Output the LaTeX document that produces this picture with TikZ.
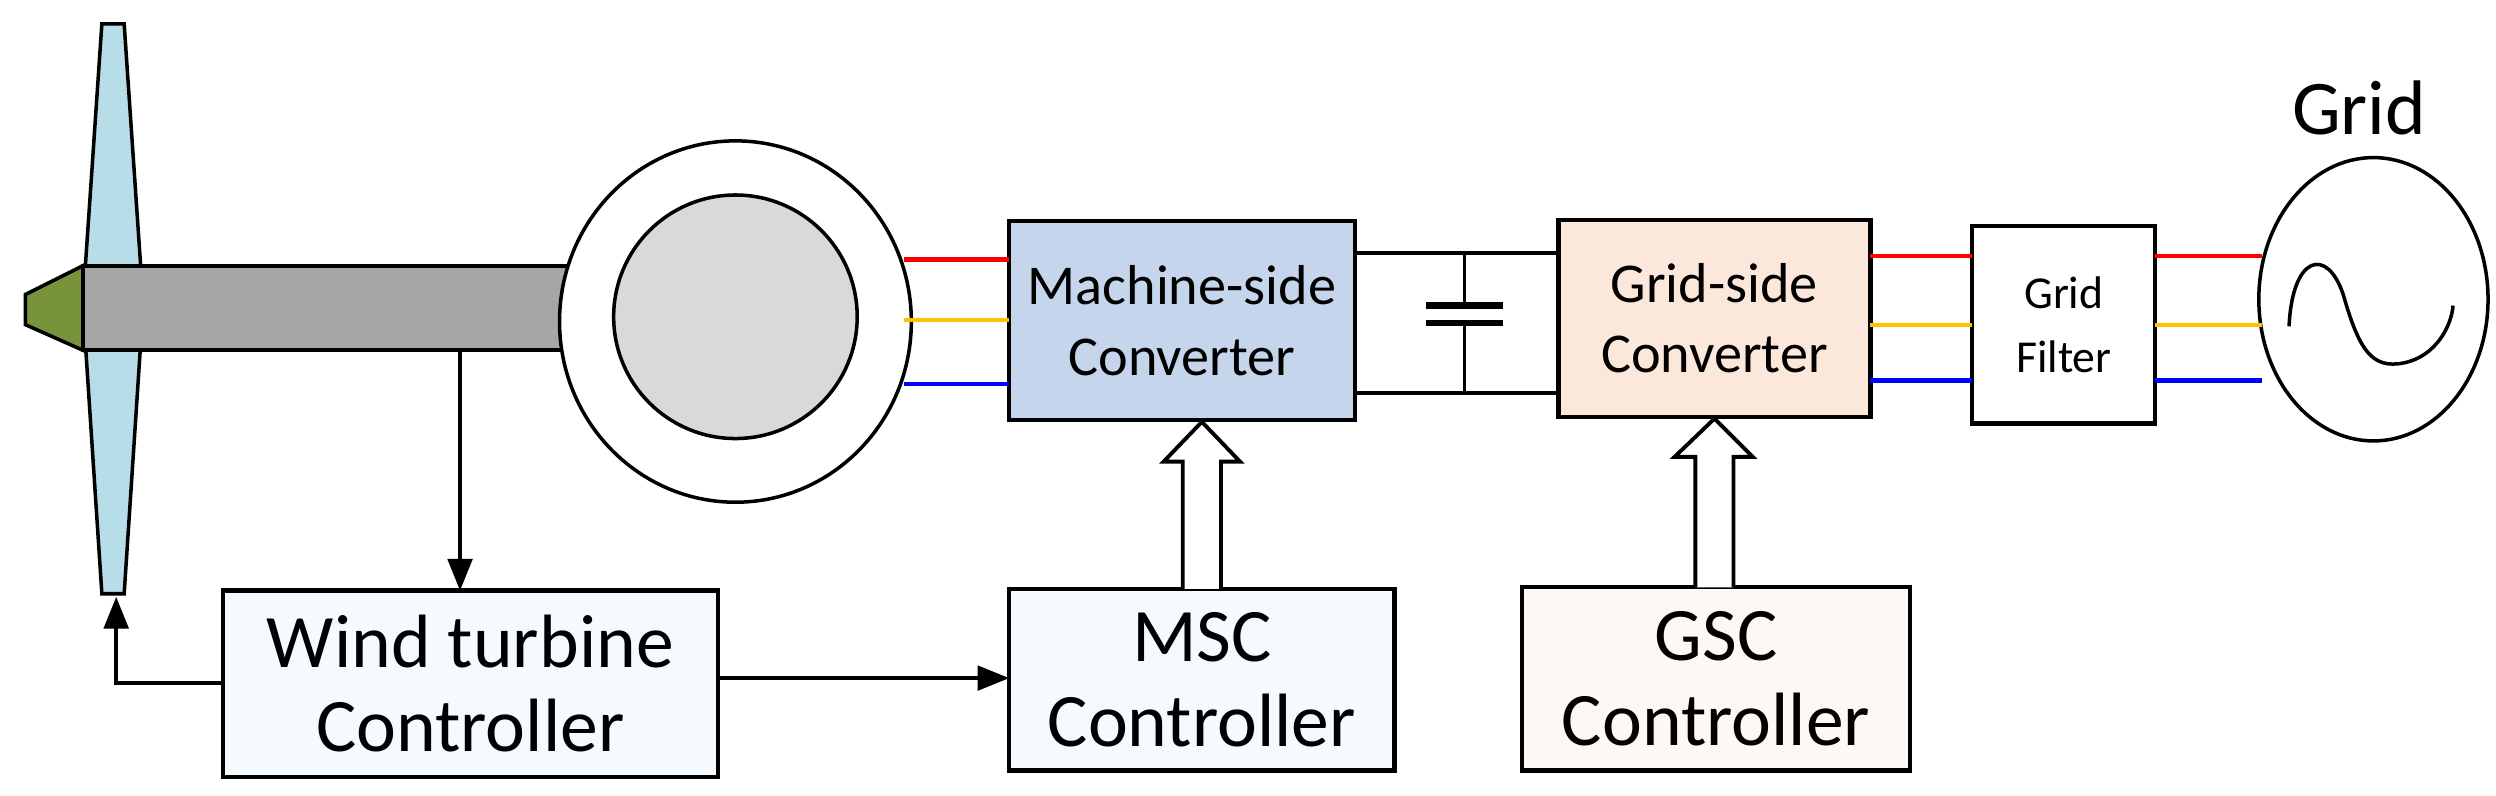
\documentclass[tikz,border=0pt]{standalone}
\usepackage{fontspec}
\setmainfont{Carlito}
\usetikzlibrary{arrows.meta,shapes.geometric}
\definecolor{blade}{HTML}{B7DDE8}
\definecolor{hub}{HTML}{77933C}
\definecolor{shaft}{HTML}{A6A6A6}
\definecolor{rotor}{HTML}{D9D9D9}
\definecolor{msc}{HTML}{C5D6EC}
\definecolor{gsc}{HTML}{FBE8DA}
\definecolor{mscc}{HTML}{F5FAFF}
\definecolor{gscc}{HTML}{FDF8F3}
\definecolor{ph1}{HTML}{FF0000}
\definecolor{ph2}{HTML}{FFC000}
\definecolor{ph3}{HTML}{0000FF}
\begin{document}
\begin{tikzpicture}[x=0.015918cm,y=-0.015918cm,
  box/.style={draw,line width=1.2pt,inner sep=0pt,outer sep=0pt,align=center},
  big/.style={font=\fontsize{21.5}{24}\selectfont},
  mid/.style={font=\fontsize{16}{20}\selectfont},
  arr/.style={line width=1pt,-{Triangle[length=9pt,width=7pt]}},
  ph/.style={line width=1.2pt},
  hollow/.style={draw,line width=1.1pt,fill=white}]
\useasboundingbox (0,0) rectangle (1568,500);
% turbine
\draw[line width=1pt,fill=blade] (64,15)--(78,15)--(90,191)--(78,373)--(64,373)--(52,191)--cycle;
\draw[line width=1.2pt,fill=shaft] (52,167) rectangle (380,220);
\draw[line width=1pt,fill=hub] (52,167)--(52,220)--(16,204)--(16,185)--cycle;
\node[draw,line width=1pt,fill=white,ellipse,minimum width=221*0.015918cm,minimum height=227*0.015918cm,inner sep=0pt] (gen) at (462,202) {};
\node[draw,line width=1pt,fill=rotor,ellipse,minimum width=153*0.015918cm,minimum height=153*0.015918cm,inner sep=0pt] (rot) at (462,199) {};
% boxes
\node[box,big,fill=mscc,minimum width=4.95cm,minimum height=1.862cm] (wtc) at (295.5,429.5) {Wind turbine\\Controller};
\node[box,big,fill=mscc,minimum width=3.852cm,minimum height=1.815cm] (mscc) at (755,427) {MSC\\Controller};
\node[box,mid,fill=msc,minimum width=3.454cm,minimum height=1.99cm] (msc) at (742.5,201.5) {Machine-side\\Converter};
\node[box,mid,fill=gsc,minimum width=3.12cm,minimum height=1.974cm] (gsc) at (1077,200) {Grid-side\\Converter};
\node[box,big,fill=gscc,minimum width=3.884cm,minimum height=1.83cm] (gscc) at (1078,426.5) {GSC\\Controller};
\node[box,font=\fontsize{13}{18}\selectfont,fill=white,minimum width=1.83cm,minimum height=1.974cm] (filt) at (1296.5,204) {Grid\\Filter};
\node[draw,line width=1pt,ellipse,minimum width=144*0.015918cm,minimum height=178*0.015918cm,inner sep=0pt] (grid) at (1491,188) {};
\node[font=\fontsize{22}{24}\selectfont] (gl) at (1482,68) {Grid};
\draw[line width=1pt] (1438,205) .. controls (1440,160) and (1462,155) .. (1472,185) .. controls (1482,220) and (1490,232) .. (1510,228) .. controls (1530,224) and (1540,205) .. (1541,192);
% phase lines
\foreach \y/\c in {163/ph1,201/ph2,241/ph3}{\draw[ph,\c] (568,\y) -- (msc.west |- 0,\y);}
\foreach \y/\c in {161/ph1,204/ph2,239/ph3}{
  \draw[ph,\c] (gsc.east |- 0,\y) -- (filt.west |- 0,\y);
  \draw[ph,\c] (filt.east |- 0,\y) -- (1421,\y);}
% DC link
\coordinate (c1) at (920,159); \coordinate (c2) at (920,247);
\draw[line width=1.2pt] (msc.east |- c1) -- (gsc.west |- c1);
\draw[line width=1.2pt] (msc.east |- c2) -- (gsc.west |- c2);
\draw[line width=1pt] (c1) -- (920,192) (920,203) -- (c2);
\draw[line width=1.8pt] (896,192) -- (944,192) (896,203) -- (944,203);
% signal arrows
\draw[arr] (289,220) -- (wtc.north -| 289,0);
\coordinate (fb) at (73,429);
\draw[arr] (wtc.west |- fb) -- (fb) -- (73,375);
\draw[arr] (wtc.east |- 0,426) -- (mscc.west |- 0,426);
% hollow arrows
\draw[hollow] (743,370)--(743,290)--(731,290)--(755,265)--(779,290)--(767,290)--(767,370);
\draw[hollow] (1065,369)--(1065,287)--(1052,287)--(1077,263)--(1101,287)--(1089,287)--(1089,369);
\end{tikzpicture}
\end{document}
